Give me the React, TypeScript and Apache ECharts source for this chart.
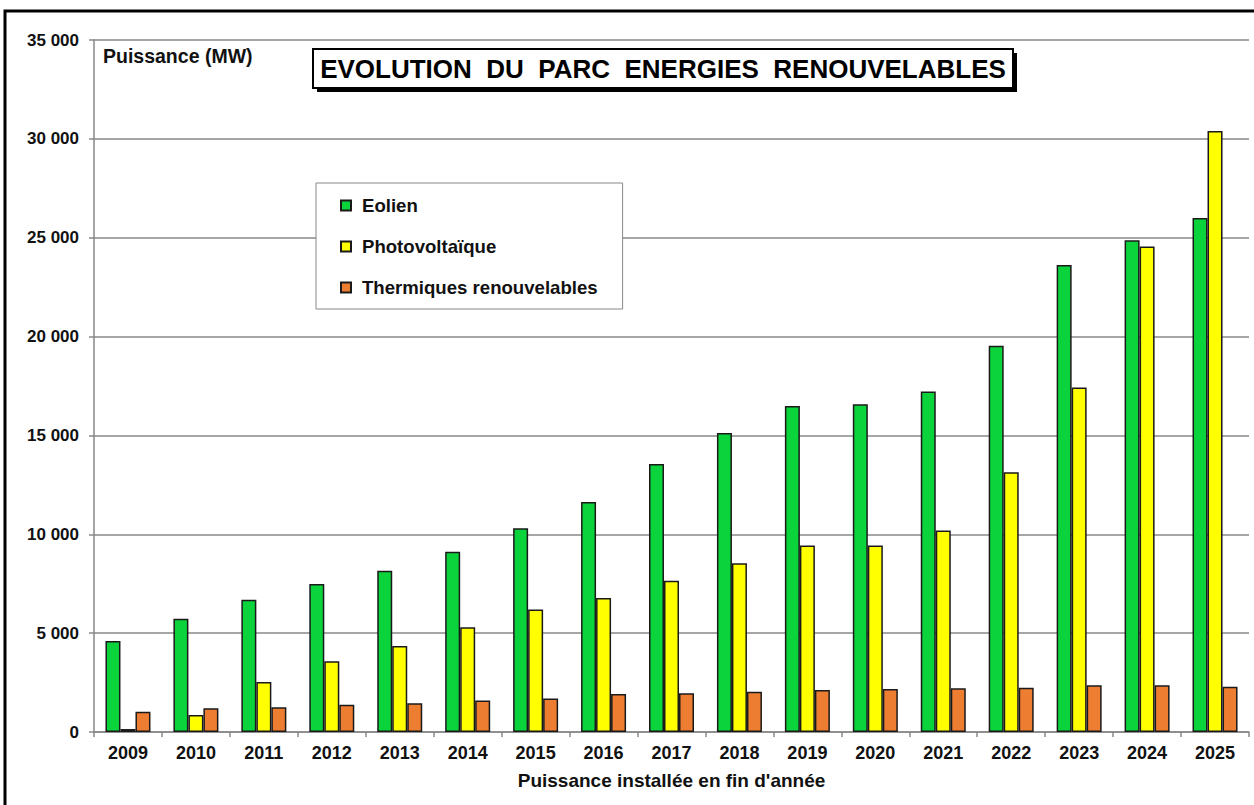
import React, { useEffect, useRef } from "react";
import * as echarts from "echarts";

const years = ["2009","2010","2011","2012","2013","2014","2015","2016","2017","2018","2019","2020","2021","2022","2023","2024","2025"];
const eolien = [4600, 5730, 6690, 7490, 8150, 9120, 10300, 11630, 13560, 15120, 16490, 16580, 17220, 19540, 23620, 24870, 26000];
const photovoltaique = [150, 860, 2530, 3580, 4350, 5300, 6200, 6780, 7650, 8530, 9430, 9430, 10190, 13140, 17420, 24550, 30400];
const thermiques = [1030, 1200, 1250, 1380, 1450, 1590, 1700, 1920, 1960, 2040, 2130, 2180, 2210, 2240, 2360, 2360, 2290];
const seriesNames = ["Eolien", "Photovoltaïque", "Thermiques renouvelables"];
const colors = ["#0bd33b", "#ffff00", "#ed7d31"];

const FONT = '"Liberation Sans", Arial, sans-serif';

const fmt = (v: number) => String(v).replace(/\B(?=(\d{3})+(?!\d))/g, " ");

export default function App() {
  const ref = useRef<HTMLDivElement>(null);
  useEffect(() => {
    if (!ref.current) return;
    const chart = echarts.init(ref.current, null, { renderer: "svg" });
    const data = [eolien, photovoltaique, thermiques];
    chart.setOption({
      animation: false,
      backgroundColor: "#ffffff",
      textStyle: { fontFamily: FONT },
      grid: { left: 94, right: 5, top: 40, bottom: 73, containLabel: false, outerBoundsMode: "none" },
      legend: {
        orient: "vertical",
        left: 316,
        top: 183,
        backgroundColor: "#ffffff",
        borderColor: "#888888",
        borderWidth: 1,
        borderRadius: 0,
        padding: [13, 25, 12, 24],
        itemGap: 22,
        itemWidth: 10,
        itemHeight: 10,
        icon: "rect",
        data: seriesNames,
        textStyle: { fontSize: 18.6, fontWeight: "bold", color: "#111", fontFamily: FONT, padding: [0, 0, 0, 6] },
      },
      xAxis: {
        type: "category",
        data: years,
        name: "Puissance installée en fin d'année",
        nameLocation: "middle",
        nameGap: 39,
        nameTextStyle: { fontSize: 19, fontWeight: "bold", color: "#111", fontFamily: FONT },
        axisLine: { lineStyle: { color: "#888", width: 1.5 } },
        axisTick: { show: true, length: 5, lineStyle: { color: "#888", width: 1.5 } },
        axisLabel: { fontSize: 18, fontWeight: "bold", color: "#111", margin: 12, fontFamily: FONT },
      },
      yAxis: {
        type: "value",
        min: 0,
        max: 35000,
        interval: 5000,
        axisLine: { show: true, lineStyle: { color: "#888", width: 1.5 } },
        axisTick: { show: true, length: 5, lineStyle: { color: "#888", width: 1.5 } },
        axisLabel: { fontSize: 17, fontWeight: "bold", color: "#111", margin: 15, fontFamily: FONT, formatter: fmt },
        splitLine: { show: true, lineStyle: { color: "#888", width: 1.5 } },
      },
      series: seriesNames.map((name, i) => ({
        name,
        type: "bar",
        data: data[i],
        barWidth: 15,
        barGap: "0%",
        itemStyle: { color: colors[i], borderColor: "#1a1a1a", borderWidth: 1.5 },
      })),
      graphic: [
        {
          type: "rect",
          silent: true,
          shape: { x: 5, y: 11, width: 1400, height: 1000 },
          style: { fill: "none", stroke: "#000", lineWidth: 3 },
          z: 100,
        },
        {
          type: "rect",
          silent: true,
          shape: { x: 317, y: 53, width: 700, height: 39 },
          style: { fill: "#000" },
          z: 100,
        },
        {
          type: "rect",
          silent: true,
          shape: { x: 313, y: 49, width: 700, height: 39 },
          style: { fill: "#fff", stroke: "#000", lineWidth: 2 },
          z: 101,
        },
        {
          type: "text",
          silent: true,
          x: 663,
          y: 69,
          z: 102,
          style: {
            text: "EVOLUTION  DU  PARC  ENERGIES  RENOUVELABLES",
            fontSize: 26,
            fontWeight: "bold",
            fontFamily: FONT,
            fill: "#000",
            align: "center",
            verticalAlign: "middle",
          },
        },
        {
          type: "text",
          silent: true,
          x: 103,
          y: 56,
          z: 102,
          style: {
            text: "Puissance (MW)",
            fontSize: 19.5,
            fontWeight: "bold",
            fontFamily: FONT,
            fill: "#111",
            align: "left",
            verticalAlign: "middle",
          },
        },
      ],
    });
    return () => chart.dispose();
  }, []);
  return <div ref={ref} style={{ position: "absolute", left: 0, top: 0, width: 1254, height: 805 }} />;
}
